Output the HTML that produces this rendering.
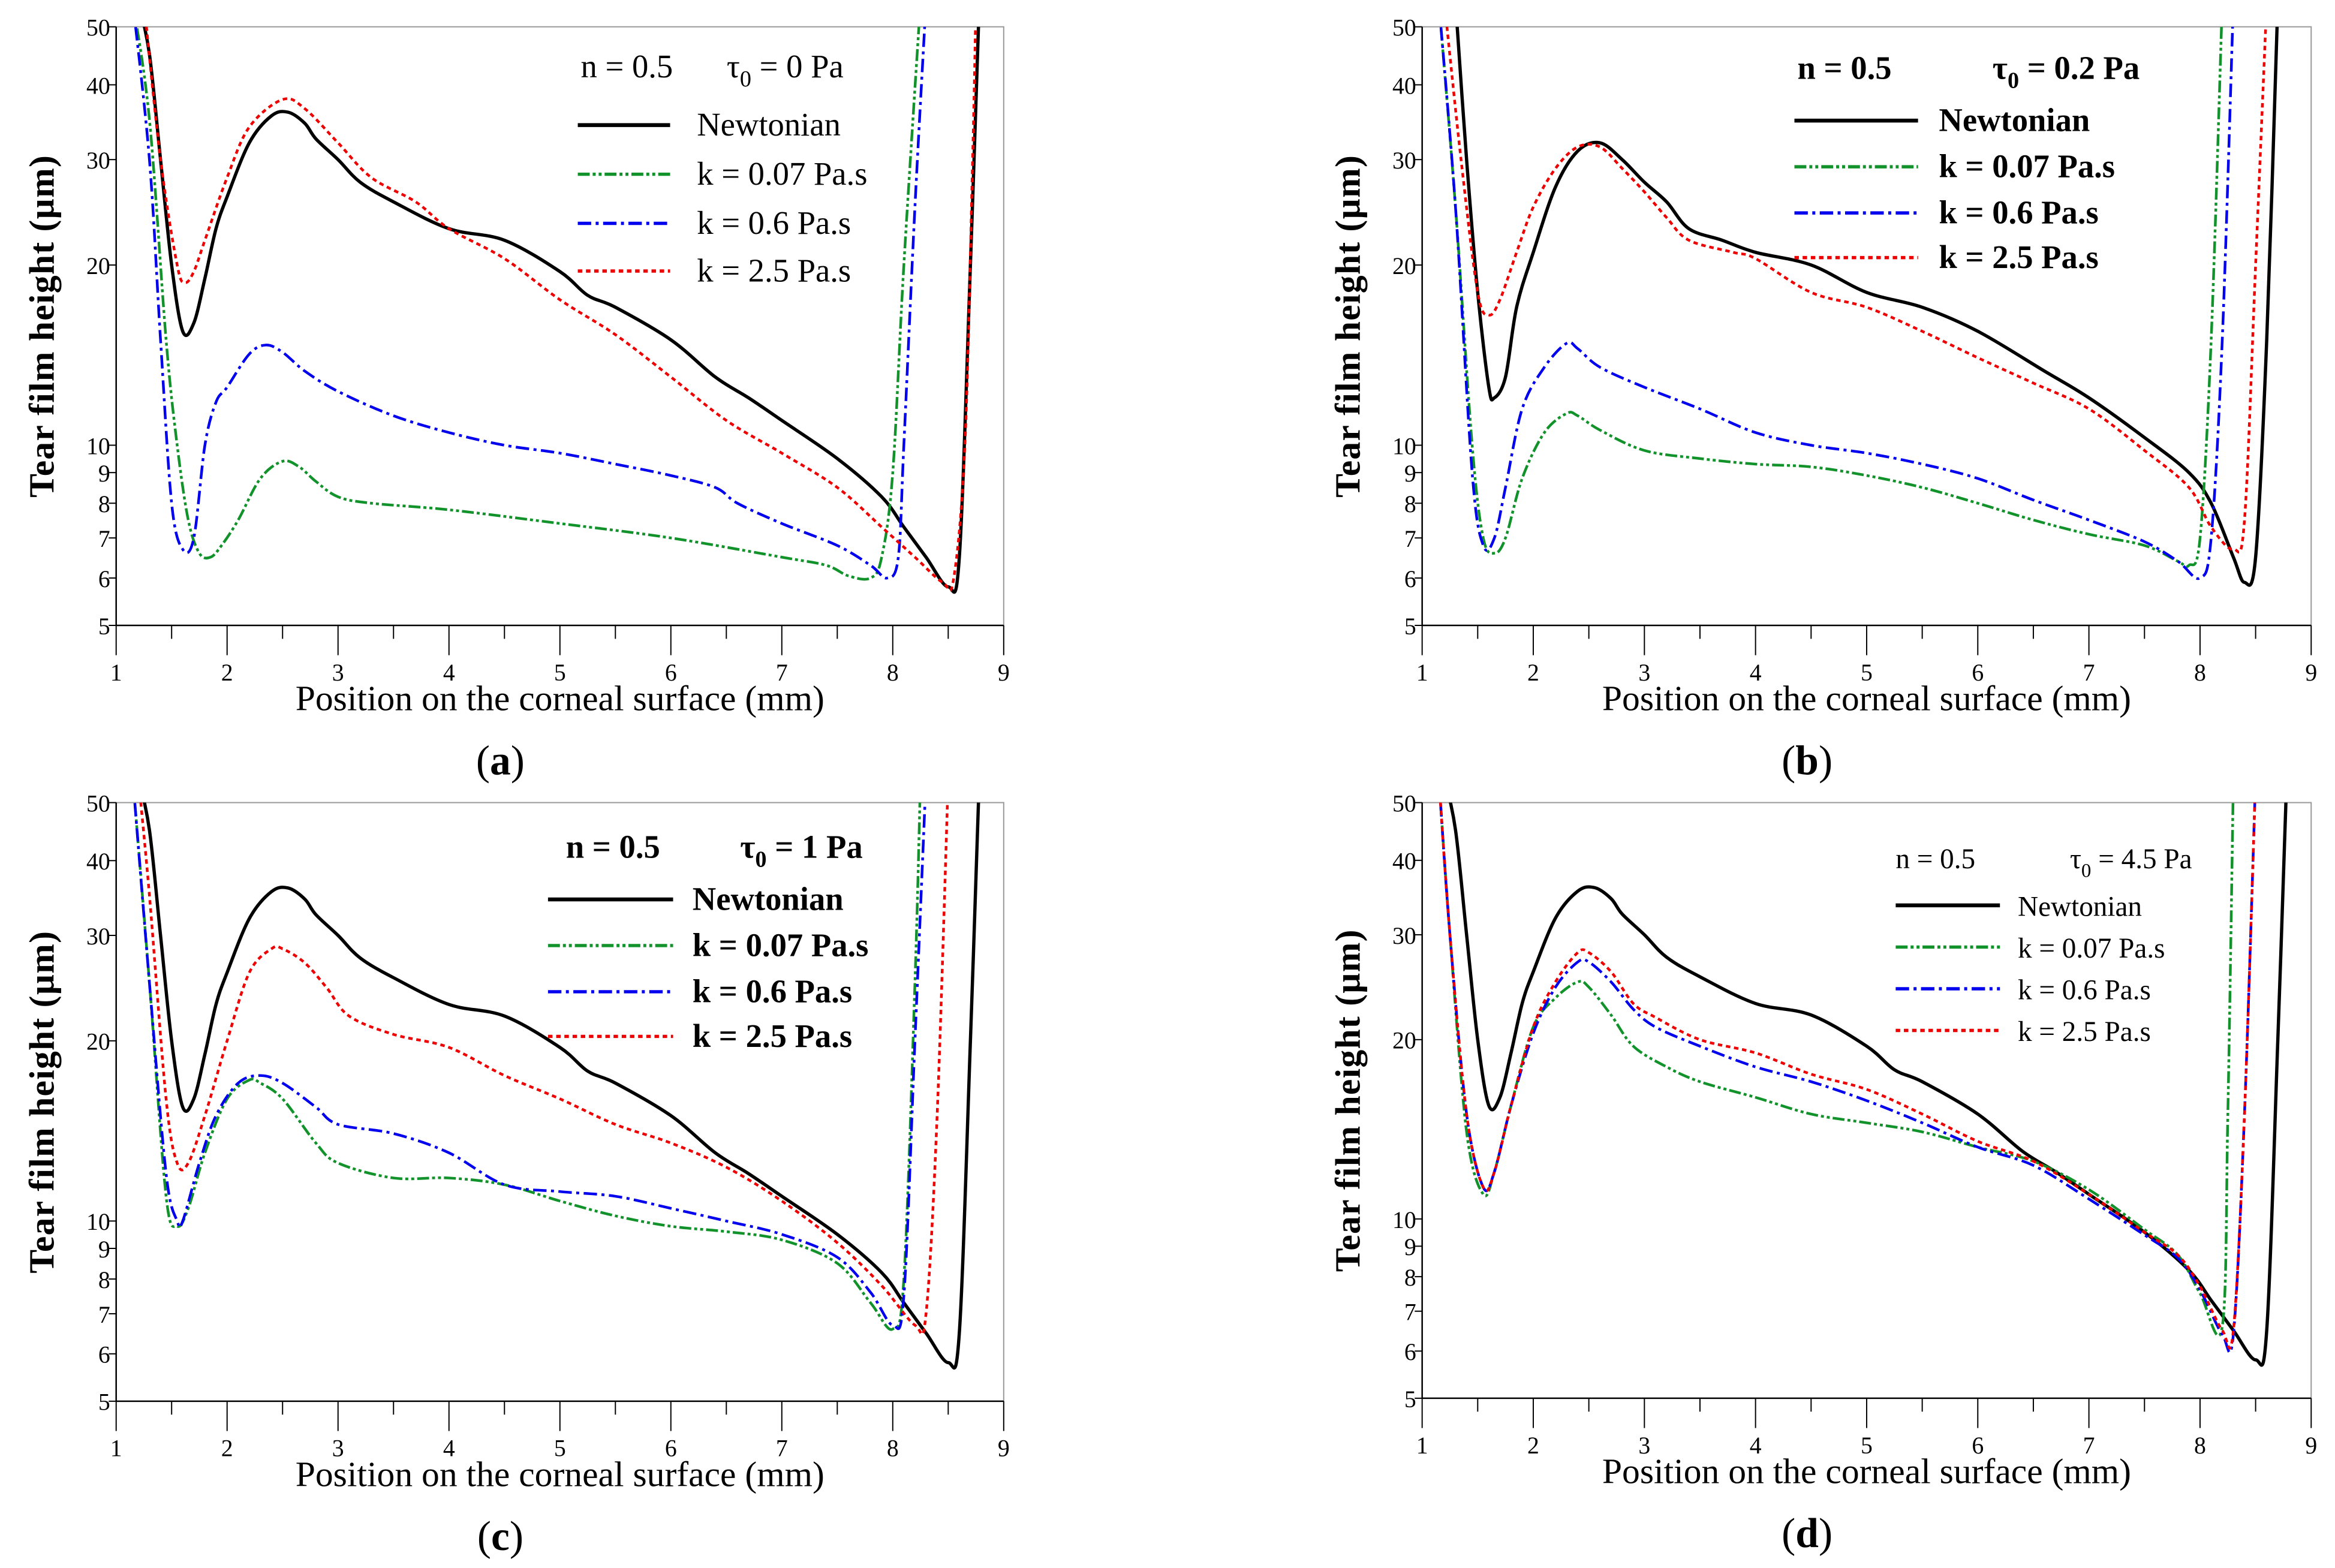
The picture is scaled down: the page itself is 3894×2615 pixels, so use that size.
<!DOCTYPE html>
<html><head><meta charset="utf-8">
<style>
html,body{margin:0;padding:0;background:#fff;}
svg{display:block;}
text{font-family:"Liberation Serif",serif;fill:#000;}
</style></head>
<body>
<svg id="fig" width="3894" height="2615" viewBox="0 0 1568 1053" preserveAspectRatio="none" xmlns="http://www.w3.org/2000/svg"></svg>
<script>
// ---------- data (x in mm, y in µm) ----------
const newtA_x=[1.2,1.3,1.4,1.5,1.6,1.7,1.8,1.9,2.0,2.2,2.4,2.55,2.7,2.8,3.0,3.2,3.5,4.0,4.5,5.0,5.25,5.5,6.0,6.4,6.7,7.0,7.5,7.9,8.1,8.3,8.5,8.6,8.7,8.78];
const newtA_y=[55,45,30,20,15.5,16,19,23,26,32,35.5,36,34.5,32.5,30,27.5,25.5,23,22,19.5,17.8,17,15,13,12,11,9.5,8.2,7.3,6.5,5.8,6.5,20,55];
const redA_x=[1.25,1.4,1.55,1.62,1.7,1.8,2.0,2.2,2.5,2.7,3.0,3.3,3.7,4.0,4.5,5.0,5.5,6.0,6.5,7.0,7.5,7.9,8.2,8.45,8.55,8.65,8.72,8.75];
const redA_y=[55,30,20,18.7,19.5,22,28,34,37.8,36.5,32,28,25.5,23,20.5,17.5,15.3,13,11,9.7,8.5,7.3,6.5,5.9,6,10,30,55];
const blueA_x=[1.15,1.3,1.4,1.5,1.6,1.7,1.8,1.9,2.0,2.2,2.35,2.5,2.7,3.0,3.5,4.0,4.5,5.0,5.5,6.0,6.4,6.6,7.0,7.5,7.8,7.95,8.05,8.1,8.2,8.3];
const blueA_y=[55,30,15,8,6.7,7,10,11.8,12.5,14.2,14.7,14.3,13.3,12.3,11.2,10.5,10,9.7,9.3,8.9,8.5,8,7.4,6.8,6.3,6,6.5,10,25,55];
const greenA_x=[1.15,1.3,1.45,1.55,1.65,1.75,1.85,1.95,2.1,2.3,2.5,2.65,2.8,3.0,3.3,4.0,5.0,6.0,7.0,7.4,7.6,7.8,7.9,8.0,8.1,8.25];
const greenA_y=[55,35,15,10,7.5,6.6,6.5,6.8,7.5,8.8,9.4,9.2,8.7,8.2,8,7.8,7.4,7,6.5,6.3,6.05,6,6.5,9,20,55];

const newtB_x=[1.3,1.4,1.5,1.6,1.65,1.75,1.85,2.0,2.2,2.4,2.6,2.8,3.0,3.2,3.4,3.7,4.0,4.5,5.0,5.5,6.0,6.6,7.0,7.5,7.9,8.1,8.3,8.4,8.5,8.6,8.7];
const newtB_y=[55,30,18,12.5,12,13,17,21,27,31,32,30,27.5,25.5,23,22,21,20,18,17,15.5,13.3,12,10.3,9,8,6.5,5.9,6.5,15,55];
const redB_x=[1.2,1.35,1.5,1.6,1.7,1.85,2.0,2.2,2.4,2.6,2.8,3.0,3.2,3.4,3.8,4.0,4.5,5.0,5.5,6.0,6.5,7.0,7.5,7.9,8.1,8.3,8.4,8.5,8.6];
const redB_y=[55,30,18,16.5,17.5,21,25,29,31.5,31.5,29,26.5,24,22,21,20.5,18,17,15.5,14,12.7,11.5,9.8,8.5,7.3,6.7,7.5,20,55];
const blueB_x=[1.15,1.3,1.45,1.55,1.65,1.75,1.9,2.1,2.3,2.4,2.6,3.0,3.5,4.0,4.5,5.0,5.5,6.0,6.5,7.0,7.5,7.8,8.0,8.1,8.2,8.3];
const blueB_y=[55,25,9,6.8,7,8.5,11.5,13.5,14.8,14.5,13.5,12.5,11.5,10.5,10,9.7,9.3,8.8,8.1,7.5,6.9,6.4,6,7,15,55];
const greenB_x=[1.15,1.3,1.45,1.55,1.65,1.75,1.9,2.1,2.3,2.4,2.6,3.0,3.5,4.0,4.5,5.0,5.5,6.0,6.5,7.0,7.5,7.8,7.9,8.0,8.1,8.2];
const greenB_y=[55,25,10,7,6.6,7,8.8,10.5,11.3,11.2,10.6,9.8,9.5,9.3,9.2,8.9,8.5,8,7.5,7.1,6.8,6.4,6.3,7,15,55];

const redC_x=[1.2,1.3,1.45,1.55,1.65,1.8,2.0,2.2,2.4,2.5,2.7,2.9,3.1,3.5,4.0,4.5,5.0,5.5,6.0,6.5,7.0,7.5,7.9,8.2,8.3,8.4,8.5];
const redC_y=[55,35,16,12.5,12.5,15,20,26,28.5,28.5,27,24.5,22,20.5,19.5,17.5,16,14.5,13.5,12.3,10.8,9.2,7.8,6.7,7,15,55];
const blueC_x=[1.15,1.3,1.45,1.55,1.6,1.75,1.9,2.1,2.3,2.5,2.8,3.0,3.5,4.0,4.5,5.0,5.5,6.0,6.5,7.0,7.5,7.8,8.0,8.1,8.2,8.3];
const blueC_y=[55,25,12,10,10,12.5,15,17,17.5,17,15.5,14.5,14,13,11.5,11.2,11,10.5,10,9.5,8.7,7.6,6.7,7.5,20,55];
const greenC_x=[1.15,1.3,1.45,1.55,1.65,1.8,2.0,2.2,2.3,2.5,2.8,3.0,3.5,4.0,4.5,5.0,5.5,6.0,6.5,7.0,7.5,7.8,8.0,8.1,8.2,8.25];
const greenC_y=[55,25,11,9.8,10.5,13,16,17.2,17,16,13.5,12.5,11.8,11.8,11.5,10.8,10.2,9.8,9.6,9.3,8.5,7.3,6.6,8,25,55];

const redD_x=[1.15,1.25,1.4,1.55,1.65,1.8,2.0,2.2,2.4,2.5,2.7,2.9,3.1,3.5,4.0,4.5,5.0,5.5,6.0,6.5,7.0,7.5,7.8,8.0,8.2,8.3,8.4,8.5];
const redD_y=[55,30,15,11.3,12,15.5,21,25,28,28,26,23,21.8,20,19,17.5,16.5,15,13.5,12.5,11,9.5,8.7,7.7,6.5,6.5,15,55];
const blueD_x=[1.15,1.25,1.4,1.55,1.65,1.8,2.0,2.2,2.4,2.5,2.7,2.9,3.1,3.5,4.0,4.5,5.0,5.5,6.0,6.5,7.0,7.5,7.8,8.0,8.2,8.3,8.4,8.5];
const blueD_y=[55,30,15,11.3,12,15.5,20.5,24.5,27,27,25,22.5,21,19.5,18,17,15.8,14.5,13.2,12.3,10.8,9.4,8.6,7.6,6.4,6.4,15,55];
const greenD_x=[1.15,1.25,1.4,1.55,1.65,1.8,2.0,2.2,2.4,2.5,2.7,2.9,3.2,3.5,4.0,4.5,5.0,5.5,6.0,6.5,7.0,7.5,7.8,8.0,8.2,8.25,8.3];
const greenD_y=[55,30,14,11,12,15.5,21,23.5,25,24.5,22,19.5,18,17,16,15,14.5,14,13.2,12.5,11.2,9.6,8.7,7.5,6.6,15,55];

const yTicks=[5,6,7,8,9,10,20,30,40,50];
const xTicks=[1,2,3,4,5,6,7,8,9];

// ---------- drawing ----------
const NS="http://www.w3.org/2000/svg";
const svg=document.getElementById('fig');
function mk(tag,attrs,parent){const e=document.createElementNS(NS,tag);for(const k in attrs)e.setAttribute(k,attrs[k]);(parent||svg).appendChild(e);return e;}
function smooth(pts){
  let d='M'+pts[0][0].toFixed(2)+' '+pts[0][1].toFixed(2);
  for(let i=0;i<pts.length-1;i++){
    const p0=pts[Math.max(0,i-1)],p1=pts[i],p2=pts[i+1],p3=pts[Math.min(pts.length-1,i+2)];
    const t=1/6;
    const c1=[p1[0]+(p2[0]-p0[0])*t,p1[1]+(p2[1]-p0[1])*t];
    const c2=[p2[0]-(p3[0]-p1[0])*t,p2[1]-(p3[1]-p1[1])*t];
    d+=' C'+c1.map(v=>v.toFixed(2)).join(' ')+' '+c2.map(v=>v.toFixed(2)).join(' ')+' '+p2[0].toFixed(2)+' '+p2[1].toFixed(2);
  }
  return d;
}

const panels=[
 {id:'a',L:78,R:674,T:18,B:420,tau:'0',
  series:[[newtA_x,newtA_y],[greenA_x,greenA_y],[blueA_x,blueA_y],[redA_x,redA_y]],
  leg:{nx:390,tx:488,hy:45,lx1:388,lx2:450,tx2:468,rows:[84,117,150,182],fs:22,bold:false,sq:0.85}},
 {id:'b',L:955,R:1552,T:18,B:420,tau:'0.2',
  series:[[newtB_x,newtB_y],[greenB_x,greenB_y],[blueB_x,blueB_y],[redB_x,redB_y]],
  leg:{nx:1207,tx:1338,hy:46,lx1:1205,lx2:1288,tx2:1302,rows:[81,112,143,173],fs:22,bold:true,sq:1}},
 {id:'c',L:78,R:674,T:539,B:941,tau:'1',
  series:[[newtA_x,newtA_y],[greenC_x,greenC_y],[blueC_x,blueC_y],[redC_x,redC_y]],
  leg:{nx:380,tx:497,hy:569,lx1:368,lx2:452,tx2:465,rows:[604,635,666,696],fs:22,bold:true,sq:1}},
 {id:'d',L:955,R:1552,T:539,B:939,tau:'4.5',
  series:[[newtA_x,newtA_y],[greenD_x,greenD_y],[blueD_x,blueD_y],[redD_x,redD_y]],
  leg:{nx:1273,tx:1390,hy:576,lx1:1273,lx2:1343,tx2:1355,rows:[608,636,664,692],fs:19,bold:false,sq:1}}
];
const styles=[
 {c:'#000',w:2.2,d:'',name:'newtonian'},
 {c:'#12922a',w:1.8,d:'8,2,2,2,2,2',name:'k-0.07'},
 {c:'#0000ee',w:1.8,d:'9,3,2,3',name:'k-0.6'},
 {c:'#ee0000',w:1.8,d:'3,2.5',name:'k-2.5'}
];
const legTexts=['Newtonian','k = 0.07 Pa.s','k = 0.6 Pa.s','k = 2.5 Pa.s'];

panels.forEach(p=>{
  const g=mk('g',{});
  
  
  const sx=v=>p.L+(v-1)/8*(p.R-p.L);
  const sy=v=>p.B-Math.log10(v/5)*(p.B-p.T);
  const cp=mk('clipPath',{id:'clip'+p.id},g);
  mk('rect',{x:p.L,y:p.T,width:p.R-p.L,height:p.B-p.T},cp);
  const fr=mk('rect',{x:p.L,y:p.T,width:p.R-p.L,height:p.B-p.T,fill:'none',stroke:'#999','stroke-width':0.8},g);
  
  
  const ya=mk('line',{x1:p.L,y1:p.T,x2:p.L,y2:p.B,stroke:'#000','stroke-width':1},g);
  
  
  const xa=mk('line',{x1:p.L,y1:p.B,x2:p.R,y2:p.B,stroke:'#000','stroke-width':1},g);
  
  
  yTicks.forEach(t=>{
    mk('line',{x1:p.L-5,y1:sy(t),x2:p.L,y2:sy(t),stroke:'#000','stroke-width':0.8},g);
    const tx=mk('text',{x:p.L-4,y:sy(t)+6,'font-size':16,'text-anchor':'end'},g);
    tx.textContent=t;
    
    
  });
  for(let v=1;v<=9.001;v+=0.5){
    mk('line',{x1:sx(v),y1:p.B,x2:sx(v),y2:p.B+(Number.isInteger(v)?20:9),stroke:'#000','stroke-width':0.8},g);
  }
  xTicks.forEach(t=>{
    const tx=mk('text',{x:sx(t),y:p.B+37,'font-size':16,'text-anchor':'middle'},g);
    tx.textContent=t;
    
    
  });
  const xt=mk('text',{x:(p.L+p.R)/2,y:p.B+57,'font-size':24,'text-anchor':'middle'},g);
  xt.textContent='Position on the corneal surface (mm)';
  
  
  const cy=(p.T+p.B)/2;
  const yt=mk('text',{x:p.L-42,y:cy,'font-size':24,'font-weight':'bold','letter-spacing':'0.5','text-anchor':'middle',transform:`rotate(-90 ${p.L-42} ${cy})`},g);
  yt.textContent='Tear film height (\u00b5m)';
  
  
  const pl=mk('text',{x:(p.L+p.R)/2-40,y:p.B+100,'font-size':28,'text-anchor':'middle'},g);
  pl.innerHTML='(<tspan font-weight="bold">'+p.id+'</tspan>)';
  
  
  const sg=mk('g',{'clip-path':`url(#clip${p.id})`},g);
  p.series.forEach((s,i)=>{
    const st=styles[i];
    const pts=s[0].map((x,j)=>[sx(x),sy(s[1][j])]);
    const path=mk('path',{d:smooth(pts),fill:'none',stroke:st.c,'stroke-width':st.w,'stroke-dasharray':st.d,'stroke-linejoin':'round'},sg);
    
    
  });
  const L=p.leg;
  const lg=mk('g',{'font-size':L.fs,'font-weight':L.bold?'bold':'normal'},g);
  
  
  const t1=mk('text',{x:L.nx,y:L.hy+7},lg); t1.textContent='n = 0.5';
  
  
  const t2=mk('text',{x:L.tx,y:L.hy+7},lg);
  t2.innerHTML='\u03c4<tspan font-size="'+(L.fs*0.7)+'" dy="6">0</tspan><tspan dy="-6"> = '+p.tau+' Pa</tspan>';
  
  
  L.rows.forEach((ry,i)=>{
    const st=styles[i];
    const ln=mk('line',{x1:L.lx1,y1:ry,x2:L.lx2,y2:ry,stroke:st.c,'stroke-width':st.w+0.4,'stroke-dasharray':st.d},lg);
    
    
    const lt=mk('text',{x:L.tx2,y:ry+7},lg);
    lt.textContent=legTexts[i];
    
    
  });
});
</script>
</body></html>
